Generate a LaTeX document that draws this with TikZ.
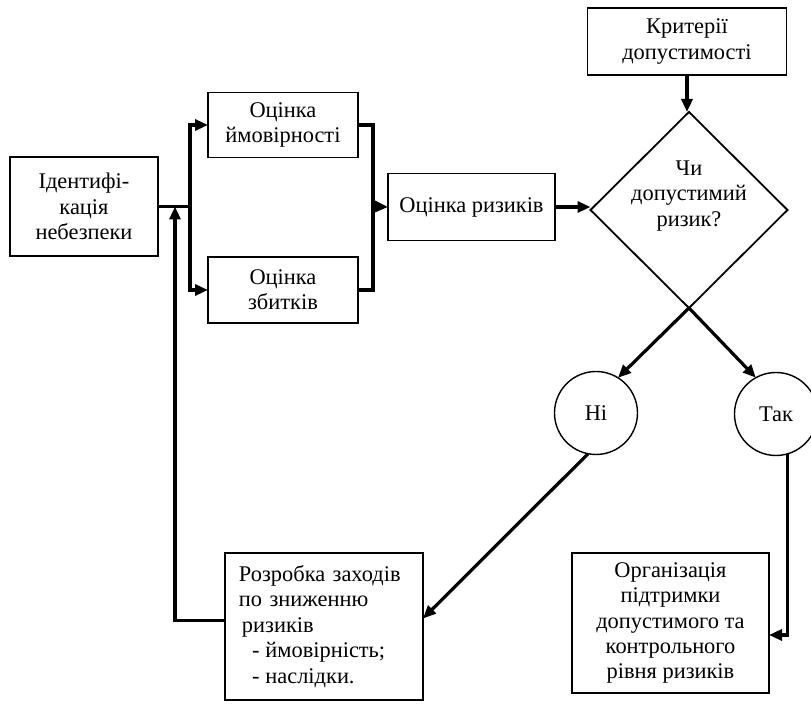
\documentclass[tikz,border=0pt]{standalone}
\usepackage{fontspec}
\setmainfont{Liberation Serif}
\usetikzlibrary{arrows.meta,shapes.geometric}

\begin{document}
\begin{tikzpicture}[x=0.5pt,y=-0.5pt,
    box/.style={draw,line width=0.9pt,inner sep=0pt,outer sep=0pt,align=center,
        font=\fontsize{11.2}{12.7}\selectfont},
    decision/.style={draw,diamond,line width=0.9pt,inner sep=0pt,outer sep=0pt,
        minimum width=98.5pt,minimum height=98pt},
    answer/.style={draw,circle,line width=0.7pt,inner sep=0pt,outer sep=0pt,
        minimum size=41.5pt,font=\fontsize{11.2}{12.7}\selectfont},
    link/.style={line width=1.6pt},
    arr/.style={link,-{Triangle[length=6.5pt,width=5.5pt]}}]
    \useasboundingbox (0,0) rectangle (811,704);
    \node[box,minimum width=74pt,minimum height=49.5pt] (ident) at (84,206.5) {Ідентифі-\\кація\\небезпеки};
    \node[box,minimum width=75pt,minimum height=32.5pt] (prob) at (283,125) {Оцінка\\ймовірності};
    \node[box,minimum width=75pt,minimum height=33pt] (loss) at (283,290) {Оцінка\\збитків};
    \node[box,minimum width=83.5pt,minimum height=33.5pt] (risk) at (471.5,207) {Оцінка ризиків};
    \node[box,minimum width=99.5pt,minimum height=33.5pt] (crit) at (687,41.5) {Критерії\\допустимості};
    \node[decision] (dia) at (689,210) {};
    \node[box,draw=none] (ask) at ([yshift=7pt]dia.center) {Чи\\допустимий\\ризик?};
    \node[answer] (ni) at (596,413) {Ні};
    \node[answer] (tak) at (776,414) {Так};
    \node[box,align=left,text width=85pt,inner xsep=7pt,minimum height=73.5pt] (rozrob) at (324,626.5)
        {Розробка заходів\\по зниженню\\\hspace{1.5pt}ризиків\\\hspace{6.5pt}-\hspace{3pt}ймовірність;\\\hspace{6.5pt}-\hspace{3pt}наслідки.};
    \node[box,minimum width=98.5pt,minimum height=70pt] (org) at (670.5,623)
        {Організація\\підтримки\\допустимого та\\контрольного\\рівня ризиків};
    \coordinate (fork) at (190,206.5);
    \coordinate (join) at (373,206.5);
    \coordinate (back) at (175,206.5);
    \draw[link] (ident.east) -- (fork);
    \draw[arr] (fork) |- (prob.west);
    \draw[arr] (fork) |- (loss.west);
    \draw[link] (prob.east) -| (join) (loss.east) -| (join);
    \draw[arr] (join) -- (risk.west);
    \draw[arr] (risk.east) -- (risk.east -| dia.west);
    \draw[arr] (crit.south) -- (crit.south |- dia.north);
    \draw[arr] (dia.south) -- (ni.58);
    \draw[arr] (dia.south) -- (tak.119);
    \draw[arr] (ni.259) -- ([yshift=4pt]rozrob.east);
    \draw[arr] (tak.286) |- ([yshift=-6pt]org.east);
    \draw[arr] ([yshift=3pt]rozrob.west) -| (back);
\end{tikzpicture}
\end{document}
